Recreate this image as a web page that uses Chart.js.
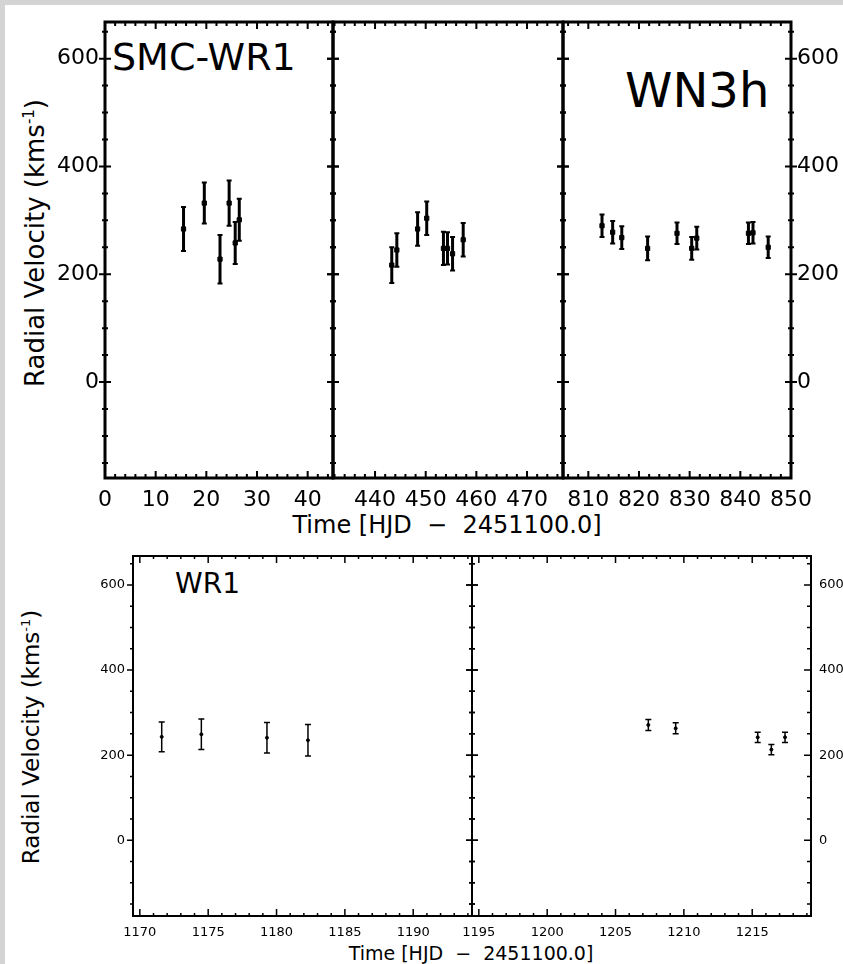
<!DOCTYPE html>
<html lang="en">
<head>
<meta charset="UTF-8">
<title>SMC-WR1 radial velocities</title>
<script src="https://cdn.jsdelivr.net/npm/chart.js"></script>
<style>
  html, body { margin: 0; padding: 0; }
  body { width: 843px; height: 964px; overflow: hidden; position: relative; background: #d4d4d4; font-family: "DejaVu Sans", sans-serif; }
  #sheet { position: absolute; left: 5px; top: 5px; right: 0; bottom: 0; background: #fff; }
  canvas { position: absolute; }
  .lbl { position: absolute; white-space: pre; line-height: 1; color: #000; }
  .ytitle { transform: translate(-50%, -50%) rotate(-90deg); }
  .xtitle { transform: translate(-50%, -50%); }
</style>
</head>
<body>
<div id="sheet"></div>

<div class="lbl" style="left:112px; top:38px; font-size:38px;">SMC-WR1</div>
<div class="lbl" style="left:625px; top:66px; font-size:48px;">WN3h</div>
<div class="lbl" style="left:175px; top:570px; font-size:28px;">WR1</div>

<div class="lbl ytitle" style="left:35px; top:243px; font-size:26px;">Radial Velocity (kms<sup style="font-size:15px">-1</sup>)</div>
<div class="lbl xtitle" style="left:447px; top:525px; font-size:24px;">Time [HJD  −  2451100.0]</div>
<div class="lbl ytitle" style="left:31px; top:737px; font-size:23px;">Radial Velocity (kms<sup style="font-size:13px">-1</sup>)</div>
<div class="lbl xtitle" style="left:471px; top:953px; font-size:19px;">Time [HJD  −  2451100.0]</div>

<script>
// radial velocities (km/s) against HJD - 2451100.0, one set per observing run
const vMin = -178, vMax = 668;
const vTicks = [0, 200, 400, 600];

const t1 = [15.5, 19.6, 22.7, 24.5, 25.7, 26.5];
const v1 = [284, 332, 228, 332, 258, 301];
const e1 = [41, 38, 45, 42, 39, 39];

const t2 = [443.3, 444.3, 448.4, 450.2, 453.5, 454.3, 455.3, 457.4];
const v2 = [217, 245, 284, 304, 248, 248, 238, 264];
const e2 = [33, 31, 31, 31, 31, 30, 31, 31];

const t3 = [812.7, 814.8, 816.6, 821.7, 827.5, 830.4, 831.4, 841.6, 842.5, 845.5];
const v3 = [290, 278, 268, 248, 276, 248, 267, 276, 277, 250];
const e3 = [21, 21, 21, 22, 20, 21, 21, 20, 20, 20];

const t4 = [1171.6, 1174.5, 1179.3, 1182.3];
const v4 = [243, 249, 241, 235];
const e4 = [35, 36, 36, 37];

const t5 = [1207.4, 1209.4, 1215.4, 1216.4, 1217.4];
const v5 = [271, 263, 242, 213, 242];
const e5 = [13, 13, 12, 12, 12];

const xTicks1 = [0, 10, 20, 30, 40];
const xTicks2 = [440, 450, 460, 470];
const xTicks3 = [810, 820, 830, 840, 850];
const xTicks4 = [1170, 1175, 1180, 1185, 1190];
const xTicks5 = [1195, 1200, 1205, 1210, 1215];

// vertical error bars with small caps, drawn under the markers
const errorBars = {
  id: 'errorBars',
  beforeDatasetsDraw(chart, args, o) {
    const ctx = chart.ctx, y = chart.scales.y;
    ctx.save();
    ctx.strokeStyle = '#000';
    chart.data.datasets.forEach((ds, i) => {
      chart.getDatasetMeta(i).data.forEach((pt, j) => {
        const v = ds.data[j].y, e = ds.errors[j];
        const top = y.getPixelForValue(v + e), bot = y.getPixelForValue(v - e);
        ctx.lineWidth = o.width;
        ctx.beginPath();
        ctx.moveTo(pt.x, top);
        ctx.lineTo(pt.x, bot);
        ctx.stroke();
        ctx.lineWidth = o.capWidth;
        ctx.beginPath();
        ctx.moveTo(pt.x - o.cap, top); ctx.lineTo(pt.x + o.cap, top);
        ctx.moveTo(pt.x - o.cap, bot); ctx.lineTo(pt.x + o.cap, bot);
        ctx.stroke();
      });
    });
    ctx.restore();
  }
};

// box round the plot with major/minor tick marks on all four sides
const frame = {
  id: 'frame',
  afterDatasetsDraw(chart, args, o) {
    const ctx = chart.ctx, a = chart.chartArea, x = chart.scales.x, y = chart.scales.y;
    const isMajor = (v, step) => Math.abs(v / step - Math.round(v / step)) < 1e-6;
    ctx.save();
    ctx.strokeStyle = '#000';
    ctx.lineWidth = o.tickWidth;
    ctx.beginPath();
    for (let k = Math.ceil(x.min / o.xStep[1]); k * o.xStep[1] <= x.max + 1e-9; k++) {
      const v = k * o.xStep[1];
      const px = x.getPixelForValue(v);
      const len = isMajor(v, o.xStep[0]) ? o.xLen[0] : o.xLen[1];
      ctx.moveTo(px, a.bottom); ctx.lineTo(px, a.bottom - len);
      ctx.moveTo(px, a.top); ctx.lineTo(px, a.top + len);
    }
    for (let k = Math.ceil(y.min / o.yStep[1]); k * o.yStep[1] <= y.max + 1e-9; k++) {
      const v = k * o.yStep[1];
      const py = y.getPixelForValue(v);
      const m = isMajor(v, o.yStep[0]);
      const L = o.yLeft, R = o.yRight;
      ctx.moveTo(a.left - (m ? L[0] : L[2]), py); ctx.lineTo(a.left + (m ? L[1] : L[3]), py);
      ctx.moveTo(a.right - (m ? R[1] : R[3]), py); ctx.lineTo(a.right + (m ? R[0] : R[2]), py);
    }
    ctx.stroke();
    ctx.lineWidth = o.lw;
    ctx.strokeRect(a.left, a.top, a.right - a.left, a.bottom - a.top);
    ctx.restore();
  }
};

function panel(p) {
  const c = document.createElement('canvas');
  c.width = p.padL + p.w + p.padR;
  c.height = p.padT + p.h + p.padB;
  c.style.left = (p.left - p.padL) + 'px';
  c.style.top = (p.top - p.padT) + 'px';
  document.body.appendChild(c);

  const font = { family: 'DejaVu Sans', size: p.fontSize };
  const fixTicks = vals => s => { s.ticks = vals.map(v => ({ value: v })); };
  const plain = v => String(v);
  // fixed axis sizes so every panel's plot box sits exactly where it is placed
  const fitY = width => s => { s.width = width; s.paddingTop = 0; s.paddingBottom = 0; };
  const scales = {
    x: {
      type: 'linear', position: 'bottom', min: p.xMin, max: p.xMax,
      grid: { display: false, drawTicks: false }, border: { display: false },
      ticks: { font, color: '#000', padding: p.xPad, autoSkip: false, maxRotation: 0, callback: plain },
      afterBuildTicks: fixTicks(p.xTicks),
      afterFit: s => { s.height = p.padB; s.paddingLeft = 0; s.paddingRight = 0; }
    },
    y: {
      type: 'linear', position: 'left', min: vMin, max: vMax, display: p.leftLabels,
      grid: { display: false, drawTicks: false }, border: { display: false },
      ticks: { font, color: '#000', padding: p.yPad, callback: plain },
      afterBuildTicks: fixTicks(vTicks)
    }
  };
  if (p.leftLabels) scales.y.afterFit = fitY(p.padL);
  if (p.rightLabels) {
    scales.yR = {
      type: 'linear', position: 'right', min: vMin, max: vMax,
      grid: { display: false, drawTicks: false }, border: { display: false },
      ticks: { font, color: '#000', padding: p.yPad, callback: plain },
      afterBuildTicks: fixTicks(vTicks),
      afterFit: fitY(p.padR)
    };
  }

  new Chart(c, {
    type: 'scatter',
    data: {
      datasets: [{
        data: p.t.map((t, i) => ({ x: t, y: p.v[i] })),
        errors: p.e,
        backgroundColor: '#000',
        borderColor: '#000',
        borderWidth: p.pointBorder,
        pointStyle: p.pointStyle,
        pointRadius: p.pointRadius
      }]
    },
    options: {
      responsive: false,
      devicePixelRatio: 1,
      animation: false,
      events: [],
      layout: { padding: { left: p.leftLabels ? 0 : p.padL, right: p.rightLabels ? 0 : p.padR, top: p.padT, bottom: 0 } },
      scales,
      plugins: {
        legend: { display: false },
        tooltip: { enabled: false },
        errorBars: p.bars,
        frame: p.frame
      }
    },
    plugins: [errorBars, frame]
  });
}

// upper figure: three runs side by side
const topFrame = { lw: 3, tickWidth: 2, xStep: [10, 2], xLen: [7, 4], yStep: [200, 50], yLeft: [6, 6, 3, 3], yRight: [6, 6, 3, 3] };
const topBars = { width: 3, capWidth: 2, cap: 2.5 };
const topBase = { top: 22, h: 456, padT: 15, padB: 42, fontSize: 22, xPad: 9, yPad: 6,
  pointStyle: 'rect', pointRadius: 3, pointBorder: 1, bars: topBars, frame: topFrame };

panel({ ...topBase, left: 105, w: 228, padL: 100, padR: 10, xMin: 0, xMax: 45, xTicks: xTicks1,
  leftLabels: true, rightLabels: false, t: t1, v: v1, e: e1 });
panel({ ...topBase, left: 333, w: 230, padL: 10, padR: 10, xMin: 431.7, xMax: 477.1, xTicks: xTicks2,
  leftLabels: false, rightLabels: false, t: t2, v: v2, e: e2 });
panel({ ...topBase, left: 563, w: 228, padL: 10, padR: 60, xMin: 805, xMax: 850, xTicks: xTicks3,
  leftLabels: false, rightLabels: true, t: t3, v: v3, e: e3 });

// lower figure: two later runs
const lowBars = { width: 1.5, capWidth: 1.5, cap: 3 };
const lowBase = { top: 556, h: 360, padT: 10, padB: 30, fontSize: 13, xPad: 9, yPad: 8,
  pointStyle: 'circle', pointRadius: 1.5, pointBorder: 1, bars: lowBars };

panel({ ...lowBase, left: 133, w: 339, padL: 100, padR: 10, xMin: 1169.5, xMax: 1194.3, xTicks: xTicks4,
  leftLabels: true, rightLabels: false, t: t4, v: v4, e: e4,
  frame: { lw: 2, tickWidth: 1.5, xStep: [5, 1], xLen: [7, 3], yStep: [200, 50], yLeft: [6, 1, 3, 0], yRight: [6, 6, 3, 3] } });
panel({ ...lowBase, left: 472, w: 339, padL: 10, padR: 40, xMin: 1194.5, xMax: 1219.3, xTicks: xTicks5,
  leftLabels: false, rightLabels: true, t: t5, v: v5, e: e5,
  frame: { lw: 2, tickWidth: 1.5, xStep: [5, 1], xLen: [7, 3], yStep: [200, 50], yLeft: [6, 6, 3, 3], yRight: [0, 7, 0, 4] } });
</script>
</body>
</html>
